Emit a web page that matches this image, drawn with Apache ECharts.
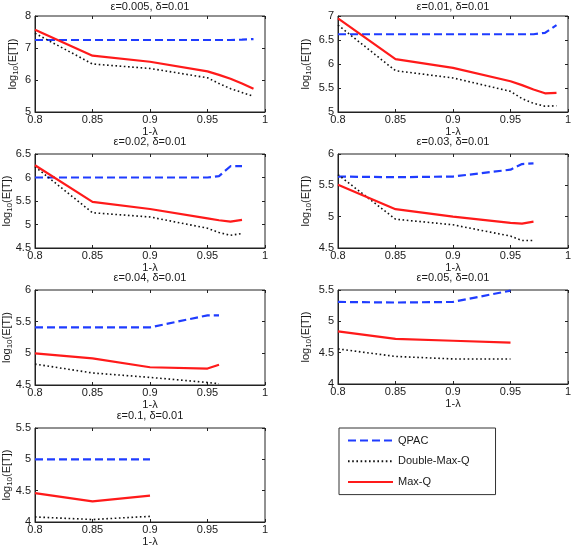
<!DOCTYPE html>
<html>
<head>
<meta charset="utf-8">
<script src="https://cdn.jsdelivr.net/npm/echarts@6/dist/echarts.min.js"></script>
<style>
html,body{margin:0;padding:0;background:#fff;}
#c{width:572px;height:547px;}
</style>
</head>
<body>
<div id="c"></div>
<script>
// ---------- data ----------
const titles = ['ε=0.005, δ=0.01', 'ε=0.01, δ=0.01', 'ε=0.02, δ=0.01', 'ε=0.03, δ=0.01', 'ε=0.04, δ=0.01', 'ε=0.05, δ=0.01', 'ε=0.1, δ=0.01'];
const seriesNames = ['QPAC', 'Double-Max-Q', 'Max-Q'];
const xAxisName = '1-λ';
const xMin = 0.8, xMax = 1, xStep = 0.05;
const yMin = [5, 5, 4.5, 4.5, 4.5, 4, 4];
const yMax = [8, 7, 6.5, 6, 6, 5.5, 5.5];
const yStep = [1, 0.5, 0.5, 0.5, 0.5, 0.5, 0.5];

const x1 = [0.8, 0.85, 0.9, 0.95, 0.96, 0.97, 0.98, 0.99];
const qpac1 = [7.25, 7.25, 7.25, 7.25, 7.25, 7.25, 7.26, 7.28];
const dmq1 = [7.46, 6.50, 6.36, 6.07, 5.89, 5.73, 5.61, 5.49];
const mq1 = [7.57, 6.76, 6.57, 6.27, 6.16, 6.04, 5.89, 5.73];

const x2 = [0.8, 0.85, 0.9, 0.95, 0.96, 0.97, 0.98, 0.99];
const qpac2 = [6.62, 6.62, 6.62, 6.62, 6.62, 6.62, 6.65, 6.81];
const dmq2 = [6.81, 5.86, 5.71, 5.43, 5.28, 5.18, 5.12, 5.13];
const mq2 = [6.95, 6.10, 5.92, 5.64, 5.56, 5.47, 5.39, 5.40];

const x3 = [0.8, 0.85, 0.9, 0.95, 0.96, 0.97, 0.98];
const qpac3 = [6.0, 6.0, 6.0, 6.0, 6.03, 6.24, 6.24];
const dmq3 = [6.23, 5.25, 5.16, 4.92, 4.83, 4.77, 4.81];
const mq3 = [6.26, 5.48, 5.33, 5.13, 5.09, 5.06, 5.10];

const x4 = [0.8, 0.85, 0.9, 0.95, 0.96, 0.97];
const qpac4 = [5.64, 5.63, 5.64, 5.75, 5.84, 5.85];
const dmq4 = [5.67, 4.96, 4.87, 4.69, 4.62, 4.62];
const mq4 = [5.51, 5.12, 5.00, 4.90, 4.89, 4.92];

const x5 = [0.8, 0.85, 0.9, 0.95, 0.96];
const qpac5 = [5.41, 5.41, 5.41, 5.60, 5.60];
const dmq5 = [4.83, 4.69, 4.62, 4.54, 4.52];
const mq5 = [5.00, 4.92, 4.78, 4.76, 4.82];

const x6 = [0.8, 0.85, 0.9, 0.95];
const qpac6 = [5.31, 5.30, 5.31, 5.49];
const dmq6 = [4.56, 4.44, 4.40, 4.40];
const mq6 = [4.84, 4.72, 4.69, 4.66];

const x7 = [0.8, 0.85, 0.9];
const qpac7 = [5.0, 5.0, 5.0];
const dmq7 = [4.08, 4.04, 4.09];
const mq7 = [4.46, 4.33, 4.42];

const panels = [
  [x1, qpac1, dmq1, mq1], [x2, qpac2, dmq2, mq2], [x3, qpac3, dmq3, mq3],
  [x4, qpac4, dmq4, mq4], [x5, qpac5, dmq5, mq5], [x6, qpac6, dmq6, mq6],
  [x7, qpac7, dmq7, mq7]
];

// ---------- layout & style ----------
const FONT = 'Liberation Sans, Arial, sans-serif';
const TXT = '#1a1a1a';
const gridBoxes = [
  {left: 35, top: 16, width: 230, height: 96},
  {left: 338, top: 16, width: 230, height: 96},
  {left: 35, top: 154, width: 230, height: 94},
  {left: 338, top: 154, width: 230, height: 94},
  {left: 35, top: 290, width: 230, height: 95},
  {left: 338, top: 290, width: 230, height: 94},
  {left: 35, top: 428, width: 230, height: 94}
];
const yNameGap = [15, 25, 21, 25, 21, 25, 21];
const lineStyles = [
  {color: '#1f3cff', width: 2.2, type: [8, 4]},
  {color: '#111111', width: 1.6, type: [1.6, 2.6]},
  {color: '#ff1a1a', width: 2.2, type: 'solid'}
];

const grids = [], xAxes = [], yAxes = [], series = [], titleArr = [];
gridBoxes.forEach((g, i) => {
  grids.push(Object.assign({show: true, borderColor: '#222', borderWidth: 1, backgroundColor: '#fff', containLabel: false, outerBoundsMode: 'none'}, g));
  titleArr.push({
    text: titles[i], left: g.left + g.width / 2, top: g.top - (i < 2 ? 15 : 18), textAlign: 'center', padding: 0,
    textStyle: {fontFamily: FONT, fontSize: 11, fontWeight: 'normal', color: TXT}
  });
  const tickCommon = {show: true, inside: true, length: 3, lineStyle: {color: '#222', width: 1}};
  xAxes.push({
    type: 'value', gridIndex: i, min: xMin, max: xMax, interval: xStep, position: 'bottom',
    name: xAxisName, nameLocation: 'middle', nameGap: 14, nameMoveOverlap: false,
    nameTextStyle: {fontFamily: FONT, fontSize: 11, color: TXT},
    axisLine: {show: true, onZero: false, lineStyle: {color: '#222'}},
    axisTick: tickCommon, splitLine: {show: false},
    axisLabel: {margin: 2, fontFamily: FONT, fontSize: 11, color: TXT, showMinLabel: true, showMaxLabel: true}
  });
  xAxes.push({
    type: 'value', gridIndex: i, min: xMin, max: xMax, interval: xStep, position: 'top',
    axisLine: {show: false}, axisTick: tickCommon, axisLabel: {show: false}, splitLine: {show: false}
  });
  yAxes.push({
    type: 'value', gridIndex: i, min: yMin[i], max: yMax[i], interval: yStep[i], position: 'left',
    name: 'log{s|10}(E[T])', nameLocation: 'middle', nameGap: yNameGap[i], nameRotate: 90, nameMoveOverlap: false,
    nameTextStyle: {fontFamily: FONT, fontSize: 11, color: TXT, lineHeight: 14,
      rich: {s: {fontFamily: FONT, fontSize: 8, color: TXT, verticalAlign: 'bottom', lineHeight: 14, padding: [4, 0, 0, 0]}}},
    axisLine: {show: true, onZero: false, lineStyle: {color: '#222'}},
    axisTick: tickCommon, splitLine: {show: false},
    axisLabel: {margin: 4, fontFamily: FONT, fontSize: 11, color: TXT, showMinLabel: true, showMaxLabel: true}
  });
  yAxes.push({
    type: 'value', gridIndex: i, min: yMin[i], max: yMax[i], interval: yStep[i], position: 'right',
    axisLine: {show: false}, axisTick: tickCommon, axisLabel: {show: false}, splitLine: {show: false}
  });
  const p = panels[i];
  for (let s = 0; s < 3; s++) {
    series.push({
      type: 'line', name: seriesNames[s], xAxisIndex: 2 * i, yAxisIndex: 2 * i,
      data: p[0].map((x, k) => [x, p[s + 1][k]]),
      showSymbol: false, symbol: 'none', smooth: false, clip: true,
      lineStyle: lineStyles[s], itemStyle: {color: lineStyles[s].color},
      emphasis: {disabled: true}, silent: true, z: 2 + s
    });
  }
});

const chart = echarts.init(document.getElementById('c'), null, {renderer: 'canvas'});
chart.setOption({
  animation: false,
  backgroundColor: '#fff',
  title: titleArr,
  grid: grids,
  xAxis: xAxes,
  yAxis: yAxes,
  legend: {
    data: seriesNames, left: 339, top: 428, orient: 'vertical',
    padding: [7, 26, 7, 8], itemGap: 9.5, itemWidth: 45, itemHeight: 14,
    borderColor: '#333', borderWidth: 1, backgroundColor: '#fff', selectedMode: false,
    textStyle: {fontFamily: FONT, fontSize: 11, color: TXT},
    itemStyle: {color: 'rgba(0,0,0,0)', borderWidth: 0, opacity: 0},
    lineStyle: {width: 2}
  },
  series: series
});
</script>
</body>
</html>
